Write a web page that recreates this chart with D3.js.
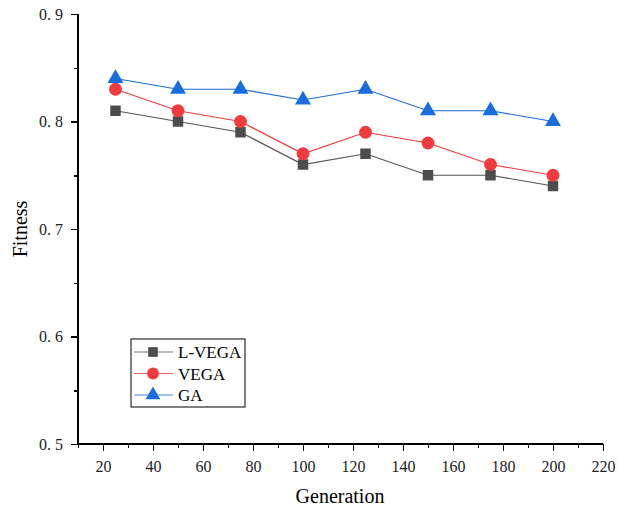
<!DOCTYPE html>
<html lang="en">
<head>
  <meta charset="UTF-8">
  <title>Fitness vs Generation</title>
  <script src="https://d3js.org/d3.v7.min.js"></script>
  <style>
    body { margin: 0; background: #fff; }
    svg { display: block; font-family: "Liberation Serif", "DejaVu Serif", serif; }
    .axis path, .axis line { stroke: #000; stroke-width: 1.5px; shape-rendering: crispEdges; }
    .axis text { font-size: 16px; fill: #222; font-family: "Liberation Serif", serif; }
    .line { fill: none; stroke-width: 1.2px; }
  </style>
</head>
<body>
  <svg width="618" height="508"></svg>
  <script>
    const generations = [25, 50, 75, 100, 125, 150, 175, 200];
    const lvega = [0.81, 0.80, 0.79, 0.76, 0.77, 0.75, 0.75, 0.74];
    const vega  = [0.83, 0.81, 0.80, 0.77, 0.79, 0.78, 0.76, 0.75];
    const ga    = [0.84, 0.83, 0.83, 0.82, 0.83, 0.81, 0.81, 0.80];
    const xTicks = [20, 40, 60, 80, 100, 120, 140, 160, 180, 200, 220];
    const yTicks = [0.5, 0.6, 0.7, 0.8, 0.9];

    const series = [
      { name: "L-VEGA", values: lvega, color: "#4d4d4d", line: "#555", symbol: d3.symbolSquare, size: 110 },
      { name: "VEGA",   values: vega,  color: "#f03a3e", line: "#f03a3e", symbol: d3.symbolCircle, size: 130 },
      { name: "GA",     values: ga,    color: "#1a6ddf", line: "#1a6ddf", symbol: d3.symbolTriangle, size: 110 }
    ];

    const svg = d3.select("svg");
    const x = d3.scaleLinear().domain([10, 220]).range([78, 603]);
    const y = d3.scaleLinear().domain([0.5, 0.9]).range([444, 14]);

    // bottom axis: major + minor ticks
    svg.append("g").attr("class", "axis")
      .attr("transform", "translate(0,444)")
      .call(d3.axisBottom(x).tickValues(d3.range(10, 221, 10)).tickSize(4).tickFormat(""))
      .call(g => g.select(".domain").remove());
    svg.append("g").attr("class", "axis")
      .attr("transform", "translate(0,444)")
      .call(d3.axisBottom(x).tickValues(xTicks).tickSize(7).tickSizeOuter(0).tickPadding(10))
      .call(g => g.select(".domain").attr("d", "M78,0H603"));

    // left axis
    svg.append("g").attr("class", "axis")
      .attr("transform", "translate(78,0)")
      .call(d3.axisLeft(y).tickValues(d3.range(0.55, 0.9, 0.1)).tickSize(4).tickFormat(""))
      .call(g => g.select(".domain").remove());
    svg.append("g").attr("class", "axis")
      .attr("transform", "translate(78,0)")
      .call(d3.axisLeft(y).tickValues(yTicks).tickSize(7).tickSizeOuter(0).tickPadding(8)
        .tickFormat(d => d3.format(".1f")(d).replace(".", ". ")))
      .call(g => g.select(".domain").attr("d", "M0,444V14"));

    // axis titles
    svg.append("text")
      .attr("x", 340).attr("y", 503)
      .attr("text-anchor", "middle")
      .style("font-size", "20px")
      .text("Generation");
    svg.append("text")
      .attr("transform", "translate(27,229) rotate(-90)")
      .attr("text-anchor", "middle")
      .style("font-size", "20px")
      .text("Fitness");

    const line = d3.line()
      .x((d, i) => x(generations[i]))
      .y(d => y(d));

    series.forEach(s => {
      svg.append("path")
        .datum(s.values)
        .attr("class", "line")
        .attr("stroke", s.line)
        .attr("d", line);
      svg.selectAll(null)
        .data(s.values)
        .join("path")
        .attr("transform", (d, i) => `translate(${x(generations[i])},${y(d)})`)
        .attr("d", d3.symbol().type(s.symbol).size(s.size))
        .attr("fill", s.color);
    });

    // legend
    const legend = svg.append("g").attr("transform", "translate(131,339)");
    legend.append("rect")
      .attr("width", 114).attr("height", 68)
      .attr("fill", "#fff").attr("stroke", "#000").attr("stroke-width", 1);
    series.forEach((s, i) => {
      const ly = 13 + i * 21.5;
      legend.append("line")
        .attr("x1", 3).attr("x2", 42).attr("y1", ly).attr("y2", ly)
        .attr("stroke", s.line).attr("stroke-width", 1.2).attr("opacity", 0.8);
      legend.append("path")
        .attr("transform", `translate(22,${ly})`)
        .attr("d", d3.symbol().type(s.symbol).size(s.size * 0.85))
        .attr("fill", s.color);
      legend.append("text")
        .attr("x", 47).attr("y", ly + 6)
        .style("font-size", "17px")
        .text(s.name);
    });
  </script>
</body>
</html>
